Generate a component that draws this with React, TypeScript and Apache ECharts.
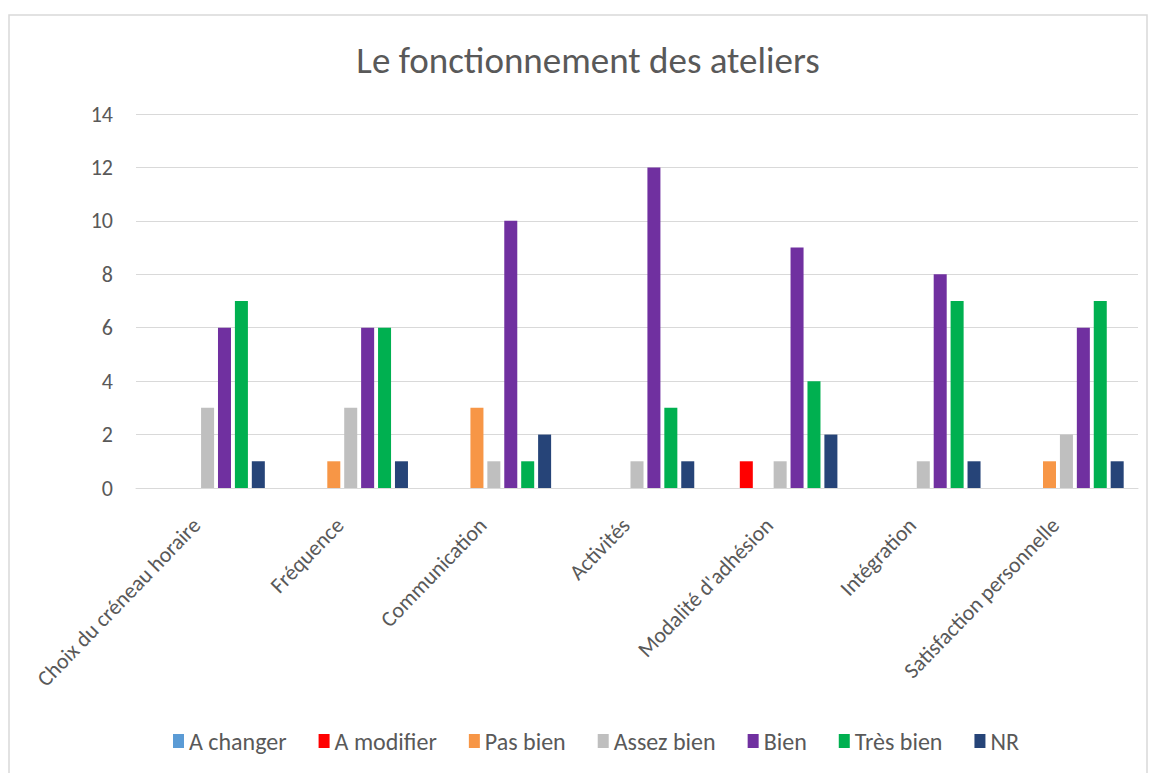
import React, { useEffect, useRef } from "react";
import * as echarts from "echarts";

const categories = [
  "Choix du créneau horaire",
  "Fréquence",
  "Communication",
  "Activités",
  "Modalité d'adhésion",
  "Intégration",
  "Satisfaction personnelle",
];

const seriesNames = ["A changer", "A modifier", "Pas bien", "Assez bien", "Bien", "Très bien", "NR"];
const seriesColors = ["#5B9BD5", "#FF0000", "#F79646", "#BFBFBF", "#7030A0", "#00B050", "#264478"];

const aChanger = [0, 0, 0, 0, 0, 0, 0];
const aModifier = [0, 0, 0, 0, 1, 0, 0];
const pasBien = [0, 1, 3, 0, 0, 0, 1];
const assezBien = [3, 3, 1, 1, 1, 1, 2];
const bien = [6, 6, 10, 12, 9, 8, 6];
const tresBien = [7, 6, 1, 3, 4, 7, 7];
const nr = [1, 1, 2, 1, 2, 1, 1];

const seriesValues = [aChanger, aModifier, pasBien, assezBien, bien, tresBien, nr];

const yTicks = { min: 0, max: 14, interval: 2 };

const FONT = "Carlito, 'Open Sans', sans-serif";

export default function App() {
  const ref = useRef<HTMLDivElement>(null);
  useEffect(() => {
    if (!ref.current) return;
    const chart = echarts.init(ref.current, undefined, { renderer: "svg" });
    chart.setOption({
      animation: false,
      backgroundColor: "#ffffff",
      title: {
        text: "Le fonctionnement des ateliers",
        left: 583,
        textAlign: "center",
        top: 37,
        textStyle: { fontFamily: FONT, fontSize: 37, fontWeight: "normal", color: "#595959" },
      },
      graphic: [
        {
          type: "rect",
          shape: { x: 9, y: 15, width: 1138, height: 770 },
          style: { fill: "none", stroke: "#D9D9D9", lineWidth: 1.5 },
          silent: true,
        },
      ],
      legend: {
        bottom: 15,
        left: 168,
        width: 1000,
        itemWidth: 11,
        itemHeight: 14,
        itemGap: 32,
        icon: "rect",
        textStyle: { fontFamily: FONT, fontSize: 24, color: "#595959" },
        data: seriesNames,
      },
      grid: { left: 136, right: 15, top: 114, bottom: 285, containLabel: false },
      xAxis: {
        type: "category",
        data: categories,
        axisLine: { show: true, lineStyle: { color: "#D9D9D9", width: 1 } },
        axisTick: { show: false },
        axisLabel: {
          rotate: 46,
          interval: 0,
          margin: 22,
          padding: [0, 16, 0, 0],
          fontFamily: FONT,
          fontSize: 22,
          color: "#595959",
        },
      },
      yAxis: {
        type: "value",
        min: yTicks.min,
        max: yTicks.max,
        interval: yTicks.interval,
        axisLine: { show: false },
        axisTick: { show: false },
        axisLabel: { fontFamily: FONT, fontSize: 22, color: "#595959", margin: 23 },
        splitLine: { lineStyle: { color: "#D9D9D9", width: 1 } },
      },
      series: seriesNames.map((name, i) => ({
        name,
        type: "bar",
        data: seriesValues[i],
        itemStyle: { color: seriesColors[i] },
        barGap: "30%",
        barCategoryGap: "20%",
      })),
    });
    return () => chart.dispose();
  }, []);
  return (
    <div
      ref={ref}
      style={{ position: "fixed", left: 0, top: 0, width: 1153, height: 773 }}
    />
  );
}
